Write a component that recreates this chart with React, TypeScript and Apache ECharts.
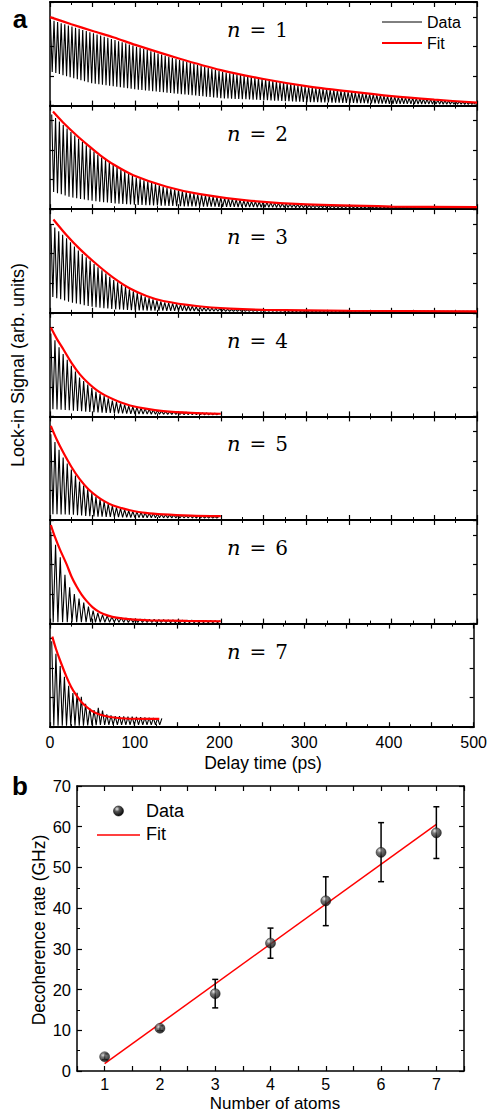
import React, { useEffect, useRef } from "react";
import * as echarts from "echarts";

// ---------- Panel a: data (axis units 0..3.5 per subplot) ----------
const nValues = [1, 2, 3, 4, 5, 6, 7];
const delayTickLabels = [0, 100, 200, 300, 400, 500];

// fit curves [delay ps, signal]
const fit1 = [[0, 2.99], [25, 2.75], [50, 2.52], [75, 2.3], [100, 2.05], [150, 1.6], [200, 1.2], [250, 0.9], [300, 0.66], [350, 0.48], [400, 0.32], [450, 0.2], [500, 0.1]];
const fit2 = [[3.5, 3.3], [15, 2.94], [31, 2.5], [45, 2.15], [58.5, 1.83], [75, 1.5], [97.5, 1.15], [136.6, 0.76], [175.6, 0.51], [230, 0.3], [300, 0.16], [400, 0.09], [500, 0.07]];
const fit3 = [[4, 3.15], [20, 2.6], [35, 2.15], [54.6, 1.64], [74, 1.19], [93.7, 0.82], [113, 0.57], [132.7, 0.4], [171.7, 0.23], [210.8, 0.14], [250, 0.1], [350, 0.07], [500, 0.05]];
const fit4 = [[1, 3.0], [8, 2.62], [15.6, 2.27], [25, 1.82], [35, 1.42], [45, 1.12], [54.6, 0.89], [64, 0.72], [74, 0.58], [84, 0.46], [93.7, 0.37], [112, 0.26], [132.7, 0.18], [165, 0.12], [200, 0.09]];
const fit5 = [[1, 3.18], [8, 2.71], [15.6, 2.28], [25, 1.8], [35, 1.37], [45, 1.04], [54.6, 0.81], [64, 0.63], [74, 0.49], [84, 0.4], [93.7, 0.33], [112, 0.24], [132.7, 0.19], [165, 0.15], [200, 0.13]];
const fit6 = [[1, 3.33], [6, 2.91], [11.7, 2.5], [19.5, 2.0], [25, 1.6], [31, 1.26], [37, 0.98], [43, 0.76], [50, 0.55], [58.5, 0.38], [68, 0.27], [78, 0.2], [95, 0.14], [117, 0.11], [160, 0.09], [200, 0.08]];
const fit7 = [[2.7, 3.06], [7, 2.65], [11.7, 2.27], [19.5, 1.7], [25, 1.36], [31, 1.08], [37, 0.85], [43, 0.69], [50, 0.54], [58.5, 0.43], [68, 0.36], [78, 0.32], [97.5, 0.285], [129, 0.28]];

// oscillating data: peak and trough envelopes [delay ps, signal]
const peak1 = [[0.5, 2.9], [50, 2.45], [100, 2.0], [150, 1.55], [200, 1.15], [300, 0.63], [400, 0.3], [500, 0.1]];
const trough1 = [[0.5, 1.15], [25, 0.95], [50, 0.75], [75, 0.65], [100, 0.55], [150, 0.4], [200, 0.25], [300, 0.12], [400, 0.06], [500, 0.04]];
const peak2 = [[2, 3.2], [31, 2.44], [58.5, 1.78], [97.5, 1.1], [136.6, 0.72], [175.6, 0.48], [230, 0.28], [300, 0.14], [400, 0.08], [500, 0.06]];
const trough2 = [[2, 0.6], [25, 0.4], [50, 0.28], [75, 0.2], [100, 0.15], [150, 0.1], [200, 0.08], [300, 0.05], [500, 0.05]];
const peak3 = [[1, 3.0], [20, 2.5], [35, 2.05], [54.6, 1.58], [74, 1.12], [93.7, 0.78], [113, 0.52], [132.7, 0.36], [171.7, 0.2], [210.8, 0.12], [300, 0.07], [500, 0.05]];
const trough3 = [[1, 0.55], [25, 0.35], [50, 0.2], [75, 0.12], [100, 0.08], [200, 0.05], [500, 0.04]];
const peak4 = [[1, 2.8], [15.6, 2.1], [35, 1.3], [54.6, 0.82], [74, 0.52], [93.7, 0.34], [132.7, 0.17], [200, 0.1]];
const trough4 = [[1, 0.25], [25, 0.2], [50, 0.14], [100, 0.08], [200, 0.05]];
const peak5 = [[1, 2.9], [15.6, 2.1], [35, 1.28], [54.6, 0.76], [74, 0.46], [93.7, 0.3], [132.7, 0.18], [200, 0.12]];
const trough5 = [[1, 0.2], [25, 0.18], [50, 0.12], [100, 0.08], [200, 0.06]];
const peak6 = [[1, 3.1], [6, 2.7], [12, 2.24], [18, 1.6], [24, 1.15], [30, 0.95], [40, 0.7], [50, 0.45], [60, 0.3], [75, 0.22], [100, 0.16], [150, 0.12], [200, 0.1]];
const trough6 = [[1, 0.05], [200, 0.03]];
const peak7 = [[2, 2.9], [8, 2.4], [14, 1.9], [20, 1.5], [28, 1.1], [34, 1.2], [40, 0.85], [50, 0.55], [59, 0.68], [65, 0.45], [75, 0.38], [100, 0.35], [132, 0.3]];
const trough7 = [[2, 0.05], [40, 0.05], [60, 0.08], [132, 0.08]];

const fits = [fit1, fit2, fit3, fit4, fit5, fit6, fit7];
const peaks = [peak1, peak2, peak3, peak4, peak5, peak6, peak7];
const troughs = [trough1, trough2, trough3, trough4, trough5, trough6, trough7];
const oscPeriod = [4.2, 4.5, 4.6, 4.8, 4.8, 5.5, 5.0]; // ps
const dataStart = [0.5, 2, 1, 1, 1, 1, 2];
const dataEnd = [500, 500, 500, 200, 200, 200, 132];

// ---------- Panel b ----------
const atoms = [1, 2, 3, 4, 5, 6, 7];
const rate = [3.5, 10.5, 19.0, 31.4, 41.8, 53.7, 58.5];
const rateLow = [2.8, 9.9, 15.5, 27.7, 35.7, 46.5, 52.2];
const rateHigh = [4.2, 11.1, 22.5, 35.1, 47.7, 61.0, 64.9];
const rateFit = [[1, 1.8], [7, 60.6]];
const rateTicks = [0, 10, 20, 30, 40, 50, 60, 70];

function envAt(env: number[][], t: number) {
  if (t <= env[0][0]) return env[0][1];
  for (let i = 1; i < env.length; i++) {
    if (t <= env[i][0]) {
      const [t0, v0] = env[i - 1];
      const [t1, v1] = env[i];
      return v0 + ((v1 - v0) * (t - t0)) / (t1 - t0);
    }
  }
  return env[env.length - 1][1];
}

function oscillation(i: number) {
  const pts: number[][] = [];
  const half = oscPeriod[i] / 2;
  for (let k = 0; ; k++) {
    const t = dataStart[i] + k * half;
    if (t > dataEnd[i]) break;
    pts.push([t, k % 2 === 0 ? envAt(peaks[i], t) : envAt(troughs[i], t)]);
  }
  return pts;
}

const FONT = '"Liberation Sans", Arial, sans-serif';

export default function App() {
  const ref = useRef<HTMLDivElement>(null);
  useEffect(() => {
    document.body.style.margin = "0";
    const chart = echarts.init(ref.current!, null, { renderer: "svg" });

    const A_LEFT = 50, A_RIGHT = 477, A_TOP = 2, A_H = 103.6;
    const grids: any[] = [];
    const xAxes: any[] = [];
    const yAxes: any[] = [];
    const series: any[] = [];
    const graphics: any[] = [];

    const tickStyle = { color: "#000", width: 1.2 };

    nValues.forEach((n, i) => {
      grids.push({ left: A_LEFT, width: A_RIGHT - A_LEFT, top: A_TOP + i * A_H, height: A_H });
      const xBase = {
        gridIndex: i, type: "value", min: 0, max: 500, interval: 50,
        splitLine: { show: false },
        axisTick: { show: true, inside: true, length: 5, lineStyle: tickStyle },
        minorTick: { show: true, splitNumber: 2, length: 3, lineStyle: { color: "#000", width: 1 } },
        minorSplitLine: { show: false },
      };
      xAxes.push({
        ...xBase, position: "bottom",
        axisLine: { show: true, onZero: false, lineStyle: { color: "#000", width: 2 } },
        axisLabel: {
          show: i === 6, fontSize: 16, color: "#000", fontFamily: FONT, margin: 7,
          formatter: (v: number) => (delayTickLabels.indexOf(v) >= 0 ? String(v) : ""),
        },
      });
      xAxes.push({
        ...xBase, position: "top",
        axisLine: { show: true, onZero: false, lineStyle: { color: "#000", width: 2 } },
        axisLabel: { show: false },
      });
      const yBase = {
        gridIndex: i, type: "value", min: 0, max: 3.5, interval: 1,
        splitLine: { show: false },
        axisLabel: { show: false },
        axisTick: { show: true, inside: true, length: 4, lineStyle: tickStyle },
        axisLine: { show: true, onZero: false, lineStyle: { color: "#000", width: 1.5 } },
      };
      yAxes.push({ ...yBase, position: "left" });
      yAxes.push({ ...yBase, position: "right" });

      series.push({
        name: "Data", type: "line", xAxisIndex: 2 * i, yAxisIndex: 2 * i,
        data: oscillation(i), showSymbol: false, symbol: "none",
        lineStyle: { color: "#000", width: 1.1 }, z: 2,
      });
      series.push({
        name: "Fit", type: "line", xAxisIndex: 2 * i, yAxisIndex: 2 * i,
        data: fits[i], showSymbol: false, symbol: "none", smooth: 0.3,
        lineStyle: { color: "#ff0000", width: 2.2 }, z: 3,
      });

      graphics.push({
        type: "text", x: 227, y: A_TOP + i * A_H + 28, z: 10,
        style: {
          text: `{n|n}{e|=}{d|${n}}`,
          align: "left", textAlign: "left", verticalAlign: "middle", textVerticalAlign: "middle",
          rich: {
            n: { fontFamily: '"DejaVu Serif", serif', fontStyle: "italic", fontSize: 21, fill: "#000", color: "#000" },
            e: { fontFamily: '"DejaVu Serif", serif', fontSize: 20, fill: "#000", color: "#000", padding: [0, 9, 0, 9] },
            d: { fontFamily: '"DejaVu Serif", serif', fontSize: 20, fill: "#000", color: "#000" },
          },
        },
      });
    });

    // Panel b
    const B = 7;
    grids.push({ left: 77, right: 490 - 464, top: 786, height: 285 });
    const bx = {
      gridIndex: B, type: "value", min: 0.5, max: 7.5, interval: 0.5,
      splitLine: { show: false },
      axisTick: { show: true, inside: true, length: 5, lineStyle: tickStyle },
      axisLine: { show: true, onZero: false, lineStyle: { color: "#000", width: 1.5 } },
    };
    xAxes.push({
      ...bx, position: "bottom",
      axisLabel: {
        show: true, fontSize: 16, color: "#000", fontFamily: FONT, margin: 5,
        formatter: (v: number) => (atoms.indexOf(v) >= 0 ? String(v) : ""),
      },
    });
    xAxes.push({ ...bx, position: "top", axisLabel: { show: false } });
    const by = {
      gridIndex: B, type: "value", min: 0, max: 70, interval: 10,
      splitLine: { show: false },
      axisTick: { show: true, inside: true, length: 5, lineStyle: tickStyle },
      minorTick: { show: true, splitNumber: 2, length: 3, lineStyle: { color: "#000", width: 1 } },
      minorSplitLine: { show: false },
      axisLine: { show: true, onZero: false, lineStyle: { color: "#000", width: 1.5 } },
    };
    yAxes.push({
      ...by, position: "left",
      axisLabel: {
        show: true, fontSize: 16.5, color: "#000", fontFamily: FONT, margin: 6,
        formatter: (v: number) => (rateTicks.indexOf(v) >= 0 ? String(v) : ""),
      },
    });
    yAxes.push({ ...by, position: "right", axisLabel: { show: false } });

    series.push({
      name: "Fit", type: "line", xAxisIndex: 14, yAxisIndex: 14, data: rateFit,
      showSymbol: false, symbol: "none", lineStyle: { color: "#ff0000", width: 1.5 }, z: 2,
    });
    series.push({
      name: "Error", type: "custom", xAxisIndex: 14, yAxisIndex: 14, z: 3,
      data: atoms.map((a, k) => [a, rateLow[k], rateHigh[k]]),
      encode: { x: 0, y: [1, 2] },
      renderItem: (params: any, api: any) => {
        const x = api.value(0);
        const lo = api.coord([x, api.value(1)]);
        const hi = api.coord([x, api.value(2)]);
        const w = 3;
        const style = { stroke: "#000", lineWidth: 1.5 };
        return {
          type: "group",
          children: [
            { type: "line", shape: { x1: lo[0], y1: lo[1], x2: hi[0], y2: hi[1] }, style },
            { type: "line", shape: { x1: lo[0] - w, y1: lo[1], x2: lo[0] + w, y2: lo[1] }, style },
            { type: "line", shape: { x1: hi[0] - w, y1: hi[1], x2: hi[0] + w, y2: hi[1] }, style },
          ],
        };
      },
    });
    const sphere = () =>
      new echarts.graphic.RadialGradient(0.35, 0.3, 0.75, [
        { offset: 0, color: "#e8e8e8" },
        { offset: 0.35, color: "#555" },
        { offset: 1, color: "#000" },
      ]);
    series.push({
      name: "Data", type: "scatter", xAxisIndex: 14, yAxisIndex: 14, z: 4,
      data: atoms.map((a, k) => [a, rate[k]]),
      symbol: "circle", symbolSize: 10,
      itemStyle: { color: sphere(), borderColor: "#000", borderWidth: 0.5 },
    });

    const txt = (text: string, x: number, y: number, font: string, align = "center", rot = 0) => ({
      type: "text", x, y, rotation: rot,
      style: { text, font, fill: "#000", align, textAlign: align, verticalAlign: "middle", textVerticalAlign: "middle" },
    });

    graphics.push(
      txt("a", 20, 19, `bold 26px ${FONT}`),
      txt("b", 20, 786, `bold 26px ${FONT}`),
      txt("Lock-in Signal (arb. units)", 18, 365, `18px ${FONT}`, "center", Math.PI / 2),
      txt("Delay time (ps)", 263, 763, `17.5px ${FONT}`),
      txt("Number of atoms", 275, 1103, `17px ${FONT}`),
      txt("Decoherence rate (GHz)", 39, 930, `17.5px ${FONT}`, "center", Math.PI / 2),
      // legend a
      { type: "line", shape: { x1: 382, y1: 22, x2: 422, y2: 22 }, style: { stroke: "#000", lineWidth: 1 } },
      txt("Data", 427, 22, `16px ${FONT}`, "left"),
      { type: "line", shape: { x1: 382, y1: 43, x2: 422, y2: 43 }, style: { stroke: "#ff0000", lineWidth: 2.2 } },
      txt("Fit", 427, 43, `16px ${FONT}`, "left"),
      // legend b
      { type: "circle", shape: { cx: 118.5, cy: 811, r: 5 }, style: { fill: sphere(), stroke: "#000", lineWidth: 0.5 } },
      txt("Data", 146, 811, `18px ${FONT}`, "left"),
      { type: "line", shape: { x1: 97, y1: 835, x2: 140, y2: 835 }, style: { stroke: "#ff0000", lineWidth: 1.5 } },
      txt("Fit", 146, 834, `18px ${FONT}`, "left")
    );

    chart.setOption({
      animation: false,
      backgroundColor: "#fff",
      grid: grids,
      xAxis: xAxes,
      yAxis: yAxes,
      series,
      graphic: graphics,
    });
    return () => chart.dispose();
  }, []);

  return <div ref={ref} style={{ position: "absolute", left: 0, top: 0, width: 490, height: 1116 }} />;
}
